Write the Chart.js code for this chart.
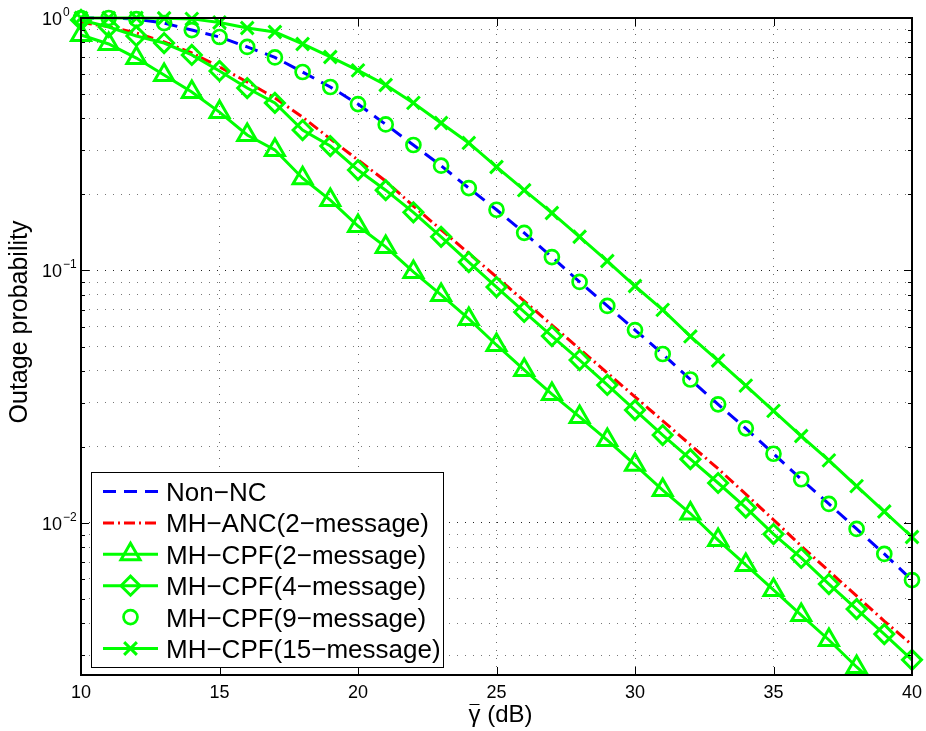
<!DOCTYPE html>
<html>
<head>
<meta charset="utf-8">
<title>Outage probability vs SNR</title>
<script src="https://cdn.jsdelivr.net/npm/chart.js@4.4.1/dist/chart.umd.min.js"></script>
<style>
  html, body { margin: 0; padding: 0; background: #fff; }
  canvas { display: block; }
</style>
</head>
<body>
<canvas id="outageChart" width="926" height="731"></canvas>
<script>
// average SNR (dB)
const snrDb = [10, 11, 12, 13, 14, 15, 16, 17, 18, 19, 20, 21, 22, 23, 24, 25,
               26, 27, 28, 29, 30, 31, 32, 33, 34, 35, 36, 37, 38, 39, 40];

// outage probability per scheme
const nonNC = [1.0, 1.0, 0.99, 0.955, 0.896, 0.841, 0.768, 0.698, 0.611, 0.533, 0.456,
               0.379, 0.314, 0.260, 0.212, 0.174, 0.141, 0.113, 0.0901, 0.0724, 0.0581,
               0.0467, 0.0370, 0.0295, 0.0237, 0.0188, 0.0149, 0.0119, 0.00947, 0.00754, 0.00594];
const mhANC = [0.96, 0.925, 0.872, 0.804, 0.727, 0.640, 0.558, 0.482, 0.405, 0.332, 0.274,
               0.226, 0.180, 0.145, 0.117, 0.0943, 0.0757, 0.0608, 0.0489, 0.0393, 0.0316,
               0.0254, 0.0204, 0.0164, 0.0130, 0.0103, 0.00811, 0.00645, 0.00514, 0.00409, 0.00329];
const mhCPF2 = [0.856, 0.789, 0.694, 0.595, 0.509, 0.424, 0.344, 0.300, 0.232, 0.190, 0.150,
                0.124, 0.0987, 0.0800, 0.0643, 0.0507, 0.0404, 0.0324, 0.0263, 0.0213, 0.0170,
                0.0135, 0.0109, 0.00856, 0.00682, 0.00543, 0.00432, 0.00344, 0.00269, 0.00214, 0.00171];
const mhCPF4 = [0.982, 0.921, 0.849, 0.796, 0.714, 0.617, 0.528, 0.461, 0.360, 0.311, 0.250,
                0.208, 0.170, 0.136, 0.108, 0.0860, 0.0685, 0.0550, 0.0442, 0.0352, 0.0280,
                0.0223, 0.0179, 0.0144, 0.0115, 0.00904, 0.00727, 0.00573, 0.00456, 0.00363, 0.00287];
const mhCPF9 = [1.0, 1.0, 0.99, 0.955, 0.896, 0.841, 0.768, 0.698, 0.611, 0.533, 0.456,
                0.379, 0.314, 0.260, 0.212, 0.174, 0.141, 0.113, 0.0901, 0.0724, 0.0581,
                0.0467, 0.0370, 0.0295, 0.0237, 0.0188, 0.0149, 0.0119, 0.00947, 0.00754, 0.00594];
const mhCPF15 = [1.0, 1.0, 1.0, 0.998, 0.992, 0.960, 0.913, 0.880, 0.789, 0.701, 0.620,
                 0.543, 0.461, 0.384, 0.320, 0.257, 0.208, 0.169, 0.136, 0.109, 0.0868,
                 0.0698, 0.0548, 0.0440, 0.0350, 0.0278, 0.0221, 0.0177, 0.0140, 0.0111, 0.00880];

const M = '\u2212';
const seriesNames = ['Non' + M + 'NC', 'MH' + M + 'ANC(2' + M + 'message)',
                     'MH' + M + 'CPF(2' + M + 'message)', 'MH' + M + 'CPF(4' + M + 'message)',
                     'MH' + M + 'CPF(9' + M + 'message)', 'MH' + M + 'CPF(15' + M + 'message)'];

// axis ticks
const xTicks = [10, 15, 20, 25, 30, 35, 40];
const yMajorTicks = [0.01, 0.1, 1];
const yMin = 0.0025, yMax = 1;

const FONT = '"Liberation Sans", Arial, Helvetica, sans-serif';
const BLUE = '#0000ff', RED = '#ff0000', GREEN = '#00ff00';

function pts(values) {
  return values.map((v, i) => ({ x: snrDb[i], y: v }));
}

function series(i, values, style) {
  return Object.assign({
    label: seriesNames[i],
    data: pts(values),
    borderWidth: 3,
    borderColor: GREEN,
    backgroundColor: 'rgba(0,0,0,0)',
    pointBackgroundColor: 'rgba(0,0,0,0)',
    pointBorderColor: GREEN,
    pointBorderWidth: 3,
    pointRadius: 0,
    borderCapStyle: 'butt',
    fill: false,
    clip: { left: 14, top: 14, right: 14, bottom: 0 }
  }, style);
}

// log-decade ticks between yMin and yMax
function logTicks() {
  const out = [];
  for (let e = -3; e <= 0; e++) {
    for (let m = 1; m <= 9; m++) {
      const v = +(m * Math.pow(10, e)).toPrecision(3);
      if (v >= yMin - 1e-12 && v <= yMax + 1e-12) out.push(v);
    }
  }
  return out;
}

function drawMarker(ctx, style, x, y, r) {
  ctx.beginPath();
  if (style === 'triangle') {
    for (let k = 0; k < 3; k++) {
      const a = k * 2 * Math.PI / 3;
      const px = x + Math.sin(a) * r, py = y - Math.cos(a) * r;
      k ? ctx.lineTo(px, py) : ctx.moveTo(px, py);
    }
    ctx.closePath();
  } else if (style === 'rectRot') {
    ctx.moveTo(x - r, y); ctx.lineTo(x, y - r); ctx.lineTo(x + r, y); ctx.lineTo(x, y + r);
    ctx.closePath();
  } else if (style === 'circle') {
    ctx.arc(x, y, r, 0, Math.PI * 2);
  } else if (style === 'crossRot') {
    const d = r * Math.SQRT1_2;
    ctx.moveTo(x - d, y - d); ctx.lineTo(x + d, y + d);
    ctx.moveTo(x + d, y - d); ctx.lineTo(x - d, y + d);
  }
  ctx.stroke();
}

// frame, inward ticks, tick labels, axis titles and legend box
const axesDecor = {
  id: 'axesDecor',
  afterDraw(chart) {
    const { ctx, chartArea: a, scales: { x, y } } = chart;
    ctx.save();
    ctx.strokeStyle = '#000';
    ctx.lineWidth = 1;
    ctx.setLineDash([]);
    ctx.beginPath();
    xTicks.forEach(v => {
      const px = Math.round(x.getPixelForValue(v)) + 0.5;
      ctx.moveTo(px, a.bottom); ctx.lineTo(px, a.bottom - 8);
      ctx.moveTo(px, a.top); ctx.lineTo(px, a.top + 8);
    });
    y.ticks.forEach(t => {
      const py = Math.round(y.getPixelForValue(t.value)) + 0.5;
      const len = yMajorTicks.includes(t.value) ? 8 : 4;
      ctx.moveTo(a.left, py); ctx.lineTo(a.left + len, py);
      ctx.moveTo(a.right, py); ctx.lineTo(a.right - len, py);
    });
    ctx.stroke();

    ctx.lineWidth = 2;
    ctx.strokeRect(a.left, a.top, a.right - a.left, a.bottom - a.top);

    // tick labels
    ctx.fillStyle = '#000';
    ctx.font = '18px ' + FONT;
    ctx.textAlign = 'center';
    ctx.textBaseline = 'alphabetic';
    xTicks.forEach(v => ctx.fillText(String(v), x.getPixelForValue(v), a.bottom + 23));

    ctx.textAlign = 'left';
    yMajorTicks.forEach(v => {
      const py = y.getPixelForValue(v);
      const e = Math.round(Math.log10(v));
      ctx.font = '18px ' + FONT;
      ctx.fillText('10', 42, py + 7);
      const w = ctx.measureText('10').width;
      ctx.font = '12px ' + FONT;
      ctx.fillText(e < 0 ? M + (-e) : String(e), 42 + w + 1, py - 2);
    });

    // y title
    ctx.save();
    ctx.translate(27, 322);
    ctx.rotate(-Math.PI / 2);
    ctx.font = '25px ' + FONT;
    ctx.textAlign = 'center';
    ctx.fillText('Outage probability', 0, 0);
    ctx.restore();

    // x title: gamma with overbar, then unit
    ctx.font = '24px ' + FONT;
    ctx.textAlign = 'left';
    const gw = ctx.measureText('\u03b3').width;
    const tw = ctx.measureText('\u03b3 (dB)').width;
    const x0 = (a.left + a.right) / 2 + 4 - tw / 2;
    ctx.fillText('\u03b3 (dB)', x0, 722);
    ctx.lineWidth = 1;
    ctx.beginPath();
    ctx.moveTo(x0 + 1, 704.5); ctx.lineTo(x0 + gw - 1, 704.5);
    ctx.stroke();

    // legend
    const box = { l: 91, t: 472, r: 443, b: 667 };
    ctx.fillStyle = '#fff';
    ctx.fillRect(box.l, box.t, box.r - box.l, box.b - box.t);
    ctx.strokeStyle = '#000';
    ctx.lineWidth = 1;
    ctx.strokeRect(box.l + 0.5, box.t + 0.5, box.r - box.l, box.b - box.t);
    chart.data.datasets.forEach((ds, i) => {
      const ry = 491.5 + i * 31.4;
      ctx.save();
      ctx.strokeStyle = ds.borderColor;
      ctx.lineWidth = ds.borderWidth;
      if (ds.showLine !== false) {
        ctx.setLineDash(ds.borderDash || []);
        ctx.beginPath();
        ctx.moveTo(103, ry); ctx.lineTo(158, ry);
        ctx.stroke();
      }
      ctx.setLineDash([]);
      if (ds.pointRadius > 0) {
        ctx.strokeStyle = ds.pointBorderColor;
        ctx.lineWidth = ds.pointBorderWidth;
        drawMarker(ctx, ds.pointStyle, 130.5, ry, ds.pointRadius);
      }
      ctx.restore();
      ctx.fillStyle = '#000';
      ctx.font = '26px ' + FONT;
      ctx.textAlign = 'left';
      ctx.fillText(ds.label, 166, ry + 9.5);
    });
    ctx.restore();
  }
};

new Chart(document.getElementById('outageChart'), {
  type: 'line',
  data: {
    datasets: [
      series(0, nonNC, { borderColor: BLUE, borderDash: [13, 8], order: 6 }),
      series(1, mhANC, { borderColor: RED, borderDash: [11, 4, 2, 4], order: 5 }),
      series(2, mhCPF2, { pointStyle: 'triangle', pointRadius: 11, order: 4 }),
      series(3, mhCPF4, { pointStyle: 'rectRot', pointRadius: 9.5, order: 3 }),
      series(4, mhCPF9, { pointStyle: 'circle', pointRadius: 7, pointBorderWidth: 2.7, showLine: false, order: 2 }),
      series(5, mhCPF15, { pointStyle: 'crossRot', pointRadius: 9, order: 1 })
    ]
  },
  options: {
    responsive: false,
    animation: false,
    events: [],
    layout: { padding: { left: 81, right: 11, top: 18, bottom: 56 } },
    elements: { line: { tension: 0 } },
    plugins: { legend: { display: false }, tooltip: { enabled: false } },
    scales: {
      x: {
        type: 'linear', min: 10, max: 40,
        afterBuildTicks: s => { s.ticks = xTicks.map(v => ({ value: v })); },
        ticks: { display: false },
        grid: { drawTicks: false, color: '#6a6a6a', lineWidth: 1 },
        border: { display: false, dash: [1, 7] }
      },
      y: {
        type: 'logarithmic', min: yMin, max: yMax,
        afterBuildTicks: s => { s.ticks = logTicks().map(v => ({ value: v, major: yMajorTicks.includes(v) })); },
        ticks: { display: false },
        grid: {
          drawTicks: false, lineWidth: 1,
          color: c => (c.tick && yMajorTicks.includes(c.tick.value)) ? '#222' : '#777'
        },
        border: { display: false, dash: [1, 7] }
      }
    }
  },
  plugins: [axesDecor]
});
</script>
</body>
</html>
